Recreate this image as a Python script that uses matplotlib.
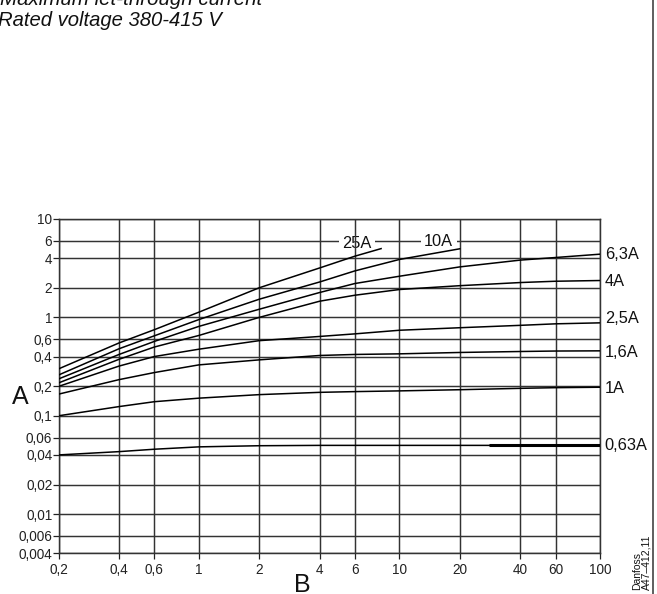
import matplotlib
matplotlib.use('Agg')
import matplotlib.pyplot as plt
from matplotlib.ticker import FixedLocator, FixedFormatter, NullLocator
from matplotlib.lines import Line2D

plt.rcParams['font.family'] = ['Liberation Sans', 'DejaVu Sans']

# ---- data ----
x_ticks = [0.2, 0.4, 0.6, 1, 2, 4, 6, 10, 20, 40, 60, 100]
x_tick_labels = ['0,2', '0,4', '0,6', '1', '2', '4', '6', '10', '20', '40', '60', '100']
y_ticks = [0.004, 0.006, 0.01, 0.02, 0.04, 0.06, 0.1, 0.2, 0.4, 0.6, 1, 2, 4, 6, 10]
y_tick_labels = ['0,004', '0,006', '0,01', '0,02', '0,04', '0,06', '0,1', '0,2',
                 '0,4', '0,6', '1', '2', '4', '6', '10']

x_25a = [0.2, 0.4, 0.6, 1, 2, 4, 6, 8.1]
i_25a = [0.30, 0.55, 0.75, 1.13, 2.0, 3.18, 4.19, 5.0]
x_10a = [0.2, 0.4, 0.6, 1, 2, 4, 6, 10, 20]
i_10a = [0.26, 0.48, 0.65, 0.95, 1.53, 2.29, 2.97, 3.88, 4.98]
x_full = [0.2, 0.4, 0.6, 1, 2, 4, 6, 10, 20, 40, 60, 100]
i_6_3a = [0.237, 0.42, 0.57, 0.81, 1.21, 1.79, 2.21, 2.62, 3.26, 3.82, 4.06, 4.39]
i_4a = [0.216, 0.375, 0.50, 0.655, 1.0, 1.46, 1.68, 1.92, 2.1, 2.26, 2.33, 2.37]
i_2_5a = [0.199, 0.32, 0.40, 0.475, 0.58, 0.64, 0.68, 0.74, 0.785, 0.83, 0.86, 0.88]
i_1_6a = [0.166, 0.233, 0.275, 0.329, 0.37, 0.41, 0.42, 0.426, 0.44, 0.45, 0.455, 0.457]
i_1a = [0.1, 0.124, 0.139, 0.151, 0.164, 0.173, 0.176, 0.179, 0.184, 0.19, 0.193, 0.195]
x_063a = [0.2, 0.4, 0.6, 1, 2, 4, 6, 10, 20, 28, 40, 60, 100]
i_063a = [0.04, 0.0432, 0.0457, 0.0483, 0.0496, 0.05, 0.05, 0.05, 0.05, 0.05, 0.05, 0.05, 0.05]

right_labels = ['6,3A', '4A', '2,5A', '1,6A', '1A', '0,63A']
right_series = [i_6_3a, i_4a, i_2_5a, i_1_6a, i_1a, i_063a]
right_dy = [-0.5, -1, 3, -1, -1, 0]  # label offsets in points

# ---- figure ----
fig = plt.figure(figsize=(6.57, 5.94), dpi=100)
L, R, B, T = 58.7 / 657, 600 / 657, 1 - 553.3 / 594, 1 - 219 / 594
ax = fig.add_axes([L, B, R - L, T - B])
ax.set_xscale('log')
ax.set_yscale('log')
ax.set_xlim(0.2, 100)
ax.set_ylim(0.004, 10)

ax.xaxis.set_major_locator(FixedLocator(x_ticks))
ax.xaxis.set_major_formatter(FixedFormatter(x_tick_labels))
ax.xaxis.set_minor_locator(NullLocator())
ax.yaxis.set_major_locator(FixedLocator(y_ticks))
ax.yaxis.set_major_formatter(FixedFormatter(y_tick_labels))
ax.yaxis.set_minor_locator(NullLocator())

ax.tick_params(axis='both', which='major', direction='out', length=4, width=0.9,
               color='#222222', labelsize=9.8, labelcolor='#222222')
ax.tick_params(axis='x', pad=3.0)
ax.tick_params(axis='y', pad=0.6)

grid_color = '#333333'
ax.grid(True, axis='y', which='major', color=grid_color, linewidth=1.05)
ax.set_axisbelow(True)
# vertical grid lines drawn above the label boxes (as in the reference)
for xv in x_ticks:
    ax.axvline(xv, color=grid_color, linewidth=1.05, zorder=1.5)
for s in ax.spines.values():
    s.set_color('#333333')
    s.set_linewidth(1.05)

lw = 1.1
ax.plot(x_25a, i_25a, color='black', lw=lw, zorder=3)
ax.plot(x_10a, i_10a, color='black', lw=lw, zorder=3)
for ser in [i_6_3a, i_4a, i_2_5a, i_1_6a, i_1a]:
    ax.plot(x_full, ser, color='black', lw=lw, zorder=3)
ax.plot(x_063a, i_063a, color='black', lw=lw, zorder=3)
ax.plot(x_063a[9:], i_063a[9:], color='black', lw=2.2, solid_capstyle='butt', zorder=3)

for lab, ser, dy in zip(right_labels, right_series, right_dy):
    ax.annotate(lab, xy=(100, ser[-1]), xytext=(3.5, dy), textcoords='offset points',
                ha='left', va='center', fontsize=11.8, color='#111111',
                annotation_clip=False)

bb = dict(facecolor='white', edgecolor='none', pad=2.5)
ax.text(6.14, 5.69, '25A', ha='center', va='center', fontsize=11.8, color='#111111',
        bbox=bb, zorder=1)
ax.text(15.7, 5.87, '10A', ha='center', va='center', fontsize=11.8, color='#111111',
        bbox=bb, zorder=1)

# axis letters
fig.text(20 / 657, 1 - 397 / 594, 'A', ha='center', va='center', fontsize=18, color='#111111')
fig.text(302 / 657, 1 - 585 / 594, 'B', ha='center', va='center', fontsize=18, color='#111111')

# titles (partly cut at the top)
fig.text(0 / 657, 1 - 5 / 594, 'Maximum let-through current', ha='left', va='baseline',
         fontsize=14.8, style='italic', color='#111111')
fig.text(-2 / 657, 1 - 26 / 594, 'Rated voltage 380-415 V', ha='left', va='baseline',
         fontsize=14.6, style='italic', color='#111111')

# drawing reference
fig.text(641.5 / 657, 4 / 594, 'Danfoss\nA47\u2013412,11', rotation=90, ha='center', va='bottom',
         fontsize=7.5, color='#111111', linespacing=0.95, multialignment='left')

# right frame line
fig.add_artist(Line2D([653 / 657, 653 / 657], [0, 1], transform=fig.transFigure,
                      color='#333333', lw=1.1))

fig.savefig('out.png', dpi=100)
